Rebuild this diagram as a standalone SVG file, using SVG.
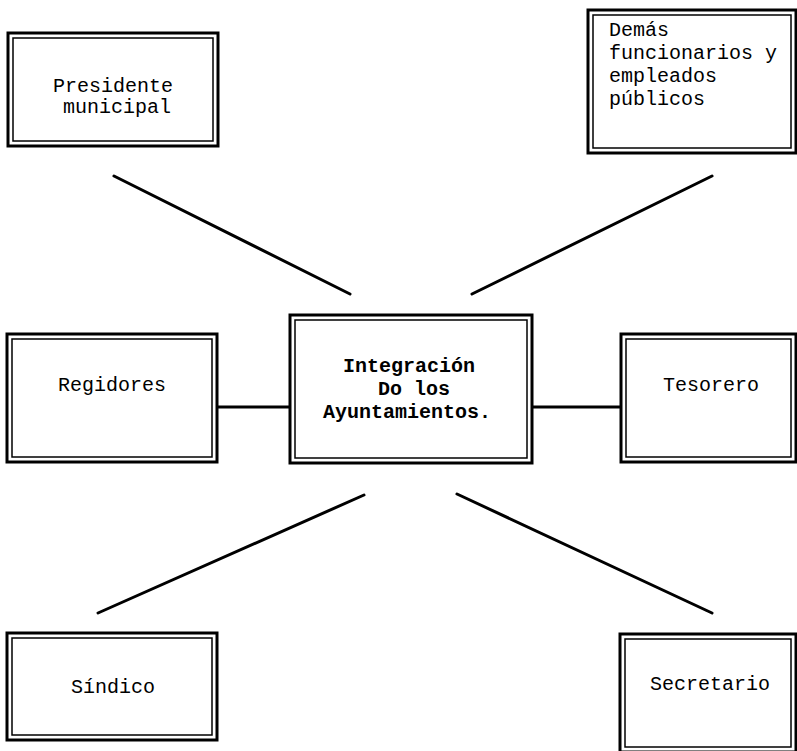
<svg xmlns="http://www.w3.org/2000/svg" width="797" height="751" viewBox="0 0 797 751">
<style>
.o{fill:#fff;stroke:#000;stroke-width:3}
.i{fill:none;stroke:#000;stroke-width:1.5}
.t{font-family:"Liberation Mono","Courier New",monospace;font-size:20px;fill:#000}
.b{font-weight:bold}
.c{stroke:#000;stroke-width:3;stroke-linecap:round;fill:none}
</style>
<rect width="797" height="751" fill="#fff"/>
<g id="connectors">
<line class="c" x1="114" y1="176" x2="350" y2="294"/>
<line class="c" x1="472" y1="294" x2="712" y2="176"/>
<line class="c" x1="98" y1="613" x2="364" y2="495"/>
<line class="c" x1="457" y1="494" x2="712" y2="613"/>
<line class="c" x1="217" y1="407" x2="290" y2="407"/>
<line class="c" x1="532" y1="407" x2="621" y2="407"/>
</g>
<g id="presidente">
<rect class="o" x="8" y="33" width="210" height="113"/>
<rect class="i" x="13" y="38" width="200" height="103"/>
<text class="t" x="53" y="92">Presidente</text>
<text class="t" x="63" y="113">municipal</text>
</g>
<g id="demas">
<rect class="o" x="588" y="10" width="208" height="143"/>
<rect class="i" x="593" y="15" width="198" height="133"/>
<text class="t" x="609" y="36">Demás</text>
<text class="t" x="609" y="59">funcionarios y</text>
<text class="t" x="609" y="82">empleados</text>
<text class="t" x="609" y="105">públicos</text>
</g>
<g id="integracion">
<rect class="o" x="290" y="315" width="242" height="148"/>
<rect class="i" x="295" y="320" width="232" height="138"/>
<text class="t b" x="343" y="372">Integración</text>
<text class="t b" x="378" y="395">Do los</text>
<text class="t b" x="323" y="418">Ayuntamientos.</text>
</g>
<g id="regidores">
<rect class="o" x="7" y="334" width="210" height="128"/>
<rect class="i" x="12" y="339" width="200" height="118"/>
<text class="t" x="58" y="391">Regidores</text>
</g>
<g id="tesorero">
<rect class="o" x="621" y="334" width="175" height="128"/>
<rect class="i" x="626" y="339" width="165" height="118"/>
<text class="t" x="663" y="391">Tesorero</text>
</g>
<g id="sindico">
<rect class="o" x="7" y="633" width="210" height="107"/>
<rect class="i" x="12" y="638" width="200" height="97"/>
<text class="t" x="71" y="693">Síndico</text>
</g>
<g id="secretario">
<rect class="o" x="620" y="634" width="176" height="118"/>
<rect class="i" x="625" y="639" width="166" height="108"/>
<text class="t" x="650" y="690">Secretario</text>
</g>
</svg>
